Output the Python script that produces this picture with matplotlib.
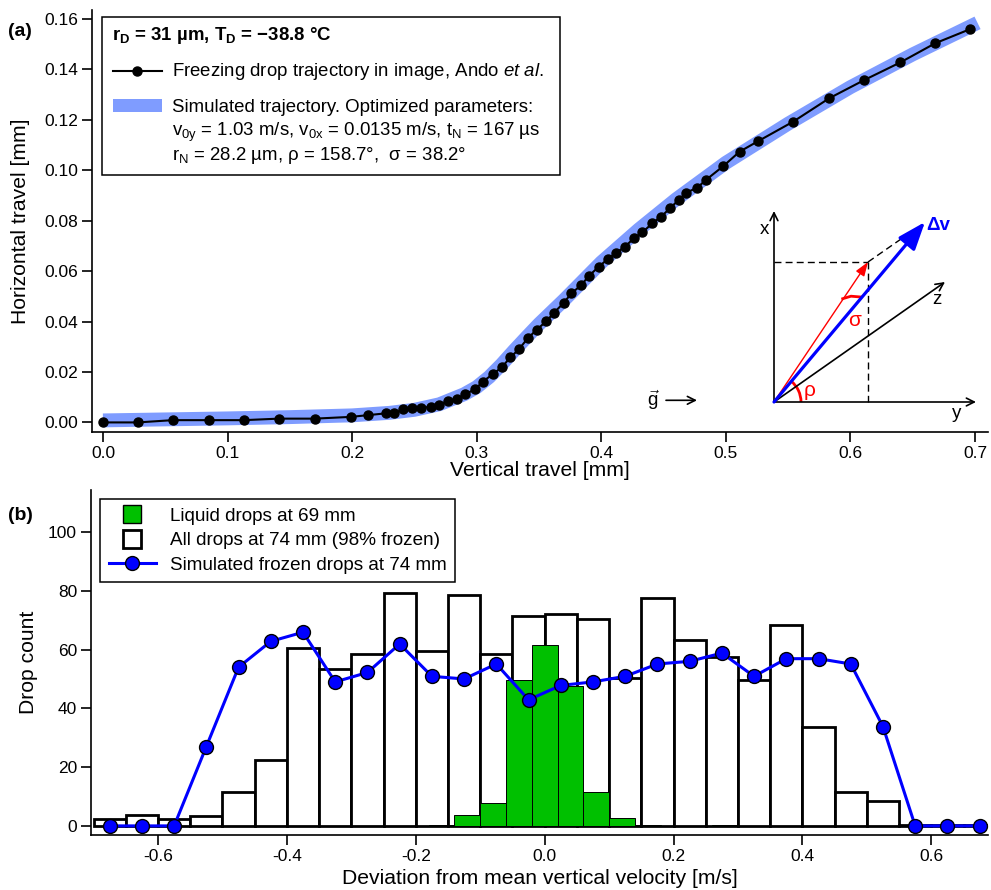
import matplotlib
matplotlib.use("Agg")
import matplotlib.pyplot as plt
from matplotlib.lines import Line2D
from matplotlib.patches import Rectangle, Arc

plt.rcParams['font.family'] = ['Liberation Sans', 'DejaVu Sans']
plt.rcParams['mathtext.fontset'] = 'custom'
plt.rcParams['mathtext.rm'] = 'Liberation Sans'
plt.rcParams['mathtext.it'] = 'Liberation Sans:italic'
plt.rcParams['mathtext.bf'] = 'Liberation Sans:bold'
plt.rcParams['axes.unicode_minus'] = False

# ---- panel (a): drop trajectory (mm) ----
obs_x = [0.000, 0.028, 0.056, 0.085, 0.113, 0.141, 0.170, 0.199, 0.213, 0.227,
         0.234, 0.241, 0.248, 0.255, 0.263, 0.270, 0.277, 0.284, 0.291, 0.299,
         0.305, 0.313, 0.320, 0.327, 0.334, 0.341, 0.348, 0.356, 0.362, 0.370,
         0.376, 0.384, 0.390, 0.398, 0.405, 0.412, 0.419, 0.426, 0.433, 0.441,
         0.448, 0.455, 0.462, 0.468, 0.477, 0.484, 0.498, 0.511, 0.526, 0.554,
         0.583, 0.611, 0.640, 0.668, 0.696]
obs_y = [0.0000, 0.0000, 0.0009, 0.0009, 0.0009, 0.0015, 0.0015, 0.0022, 0.0029, 0.0036,
         0.0036, 0.0052, 0.0056, 0.0056, 0.0063, 0.0069, 0.0086, 0.0093, 0.0112, 0.0133,
         0.0162, 0.0192, 0.0218, 0.0258, 0.0291, 0.0334, 0.0367, 0.0402, 0.0435, 0.0475,
         0.0512, 0.0545, 0.0581, 0.0618, 0.0647, 0.0673, 0.0697, 0.0730, 0.0754, 0.0790,
         0.0816, 0.0849, 0.0882, 0.0911, 0.0931, 0.0962, 0.1017, 0.1074, 0.1116, 0.1193,
         0.1286, 0.1358, 0.1428, 0.1504, 0.1560]

sim_x = [0.00, 0.05, 0.10, 0.15, 0.20, 0.23, 0.25, 0.27, 0.29, 0.30, 0.31, 0.32,
         0.33, 0.34, 0.35, 0.37, 0.40, 0.43, 0.46, 0.50, 0.55, 0.60, 0.65, 0.702]
sim_y = [0.0008, 0.0012, 0.0016, 0.0021, 0.0028, 0.0038, 0.0050, 0.0072, 0.0112, 0.0140,
         0.0180, 0.0230, 0.0285, 0.0338, 0.0390, 0.0485, 0.0635, 0.0765, 0.0885, 0.1030,
         0.1185, 0.1330, 0.1460, 0.1585]

# ---- panel (b): velocity deviation histograms (m/s) ----
v_centers = [-0.675, -0.625, -0.575, -0.525, -0.475, -0.425, -0.375, -0.325, -0.275, -0.225,
             -0.175, -0.125, -0.075, -0.025, 0.025, 0.075, 0.125, 0.175, 0.225, 0.275,
             0.325, 0.375, 0.425, 0.475, 0.525, 0.575, 0.625, 0.675]
all_counts = [2.4, 3.6, 2.4, 3.5, 11.6, 22.5, 60.5, 53.5, 58.6, 79.4,
              59.4, 78.4, 58.6, 71.5, 72.2, 70.4, 50.3, 77.6, 63.4, 57.5,
              49.5, 68.5, 33.6, 11.6, 8.6, 0.4, 0.4, 0.4]
sim_counts = [0, 0, 0, 27.0, 54.0, 62.8, 65.9, 49.0, 52.2, 61.9,
              50.9, 50.0, 55.1, 42.9, 47.8, 49.0, 50.9, 55.1, 56.0, 58.8,
              50.9, 56.9, 56.9, 55.1, 33.8, 0, 0, 0]
liq_centers = [-0.16, -0.12, -0.08, -0.04, 0.00, 0.04, 0.08, 0.12, 0.16, 0.20, 0.24, 0.28]
liq_counts = [0.4, 3.7, 7.9, 49.7, 61.7, 47.7, 11.7, 2.8, 0.4, 0.0, 0.0, 0.4]

W, H = 991, 890
fig = plt.figure(figsize=(W / 100, H / 100), dpi=100)


def fx(x, y):
    # pixel position -> figure fraction
    return x / W, 1 - y / H


def style(ax):
    ax.spines['top'].set_visible(False)
    ax.spines['right'].set_visible(False)
    for s in ('left', 'bottom'):
        ax.spines[s].set_linewidth(1.2)
    ax.tick_params(direction='out', length=7, width=1.2, labelsize=12.5, pad=3)


# ---------------- (a) ----------------
ax1 = fig.add_axes([92 / W, 1 - 432 / H, 896 / W, 422 / H])
style(ax1)
ax1.plot(sim_x, sim_y, color='#7f9cff', lw=10, solid_capstyle='butt', zorder=1)
ax1.plot(obs_x, obs_y, color='black', lw=1.5, marker='o', ms=6.5, zorder=2)
ax1.set_xlim(-0.0088, 0.7104)
ax1.set_ylim(-0.0038, 0.1636)
ax1.set_xticks([0.0, 0.1, 0.2, 0.3, 0.4, 0.5, 0.6, 0.7])
ax1.set_xticklabels(['0.0', '0.1', '0.2', '0.3', '0.4', '0.5', '0.6', '0.7'])
ax1.set_yticks([0.00, 0.02, 0.04, 0.06, 0.08, 0.10, 0.12, 0.14, 0.16])
ax1.set_yticklabels(['0.00', '0.02', '0.04', '0.06', '0.08', '0.10', '0.12', '0.14', '0.16'])
ax1.set_xlabel('Vertical travel [mm]', fontsize=15.2, labelpad=0)
ax1.set_ylabel('Horizontal travel [mm]', fontsize=15.2, labelpad=10)

# hand-built legend box for (a)
tf = fig.transFigure
ax1.add_patch(Rectangle(fx(101.5, 175), (560 - 101.5) / W, (175 - 17.5) / H,
                        transform=tf, facecolor='white', edgecolor='black', lw=1.1,
                        clip_on=False, zorder=5))
lfs = 13.4
fig.text(*fx(112.5, 40.5), r'r$_\mathbf{D}$ = 31 µm, T$_\mathbf{D}$ = −38.8 °C',
         fontsize=lfs, fontweight='bold', va='baseline', zorder=6)
ax1.add_line(Line2D([112.5 / W, 161.5 / W], [1 - 71 / H, 1 - 71 / H], transform=tf,
                    color='black', lw=1.5, zorder=6, clip_on=False))
ax1.add_line(Line2D([137 / W], [1 - 71 / H], transform=tf, marker='o', ms=6.5,
                    color='black', zorder=6, clip_on=False))
fig.text(*fx(171.5, 76), r'Freezing drop trajectory in image, Ando $\mathit{et\ al.}$',
         fontsize=lfs, va='baseline', zorder=6)
ax1.add_patch(Rectangle(fx(112.5, 111.5), 49 / W, 13 / H, transform=tf,
                        facecolor='#7f9cff', edgecolor='none', clip_on=False, zorder=6))
fig.text(*fx(171.5, 111.5), 'Simulated trajectory. Optimized parameters:',
         fontsize=lfs, va='baseline', zorder=6)
fig.text(*fx(171.5, 135.5),
         r'v$_\mathrm{0y}$ = 1.03 m/s, v$_\mathrm{0x}$ = 0.0135 m/s, t$_\mathrm{N}$ = 167 µs',
         fontsize=lfs, va='baseline', zorder=6)
fig.text(*fx(171.5, 160), r'r$_\mathrm{N}$ = 28.2 µm, ρ = 158.7°,  σ = 38.2°',
         fontsize=lfs, va='baseline', zorder=6)

# inset sketch of the velocity kick geometry
axi = fig.add_axes([639 / W, 1 - 422 / H, 350 / W, 220 / H])
axi.set_xlim(-135, 215)
axi.set_ylim(-20, 200)
axi.axis('off')
ak = dict(arrowstyle='->', color='black', lw=1.2, shrinkA=0, shrinkB=0, mutation_scale=14)
axi.annotate('', xy=(0, 191), xytext=(0, 0), arrowprops=ak)
axi.annotate('', xy=(202, 0), xytext=(0, 0), arrowprops=ak)
axi.annotate('', xy=(171, 120), xytext=(0, 0), arrowprops=ak)
axi.annotate('', xy=(-77, 1.7), xytext=(-108, 1.7), arrowprops=ak)
axi.plot([0, 94], [140, 140], color='black', lw=1, dashes=(5, 3))
axi.plot([94, 94], [140, 0], color='black', lw=1, dashes=(5, 3))
axi.plot([94, 140], [140, 172], color='black', lw=1, dashes=(5, 3))
axi.annotate('', xy=(94, 140), xytext=(0, 0),
             arrowprops=dict(arrowstyle='-|>,head_length=0.7,head_width=0.25', color='red',
                             lw=1, shrinkA=0, shrinkB=0, mutation_scale=12))
axi.annotate('', xy=(151, 180), xytext=(0, 0),
             arrowprops=dict(arrowstyle='-|>,head_length=0.85,head_width=0.32', color='#0000ff',
                             lw=2.3, shrinkA=0, shrinkB=0, mutation_scale=20))
axi.add_patch(Arc((0, 0), 54, 54, theta1=0, theta2=51, color='red', lw=2))
axi.plot([68.7, 77, 86.7], [103.3, 105.8, 105], color='red', lw=2)
axi.text(-10, 173, 'x', fontsize=13.5, ha='center', va='center')
axi.text(183, -12, 'y', fontsize=13.5, ha='center', va='center')
axi.text(163, 103, 'z', fontsize=13.5, ha='center', va='center')
axi.text(164, 176, 'Δv', fontsize=13.5, ha='center', va='center', color='#0000ff',
         fontweight='bold')
axi.text(81, 82, 'σ', fontsize=15, ha='center', va='center', color='red')
axi.text(36, 12, 'ρ', fontsize=15, ha='center', va='center', color='red')
axi.text(-121, 2, r'$\vec{\mathrm{g}}$', fontsize=13.5, ha='center', va='center')

fig.text(*fx(8, 31), '(a)', fontsize=14, fontweight='bold', va='center')

# ---------------- (b) ----------------
ax2 = fig.add_axes([91 / W, 1 - 835 / H, 897 / W, 345 / H])
style(ax2)
ax2.bar(v_centers, all_counts, width=0.05, facecolor='white', edgecolor='black', lw=2,
        zorder=1)
ax2.bar(liq_centers, liq_counts, width=0.04, facecolor='#00c000', edgecolor='black', lw=0.7,
        zorder=2)
ax2.plot(v_centers, sim_counts, color='#0000ff', lw=2.2, marker='o', ms=10,
         mfc='#0000ff', mec='black', mew=1, zorder=3, clip_on=False)
ax2.set_xlim(-0.704, 0.688)
ax2.set_ylim(-3.1, 114.3)
ax2.set_xticks([-0.6, -0.4, -0.2, 0.0, 0.2, 0.4, 0.6])
ax2.set_xticklabels(['-0.6', '-0.4', '-0.2', '0.0', '0.2', '0.4', '0.6'])
ax2.set_yticks([0, 20, 40, 60, 80, 100])
ax2.set_xlabel('Deviation from mean vertical velocity [m/s]', fontsize=15.2, labelpad=4)
ax2.set_ylabel('Drop count', fontsize=15.2, labelpad=7)

handles = [
    Line2D([], [], ls='none', marker='s', ms=13, mfc='#00c000', mec='black', mew=1),
    Line2D([], [], ls='none', marker='s', ms=13, mfc='white', mec='black', mew=2),
    Line2D([], [], color='#0000ff', lw=2.2, marker='o', ms=10, mfc='#0000ff',
           mec='black', mew=1),
]
labels = ['Liquid drops at 69 mm', 'All drops at 74 mm (98% frozen)',
          'Simulated frozen drops at 74 mm']
leg = ax2.legend(handles, labels, loc='upper left', bbox_to_anchor=fx(100, 499),
                 bbox_transform=tf, borderaxespad=0, fancybox=False, framealpha=1,
                 edgecolor='black', fontsize=13.6, numpoints=1, handlelength=2.5,
                 handletextpad=0.75, labelspacing=0.38, borderpad=0.45)
leg.get_frame().set_linewidth(1.1)

fig.text(*fx(8, 516), '(b)', fontsize=14, fontweight='bold', va='center')

fig.savefig('out.png', dpi=100)
